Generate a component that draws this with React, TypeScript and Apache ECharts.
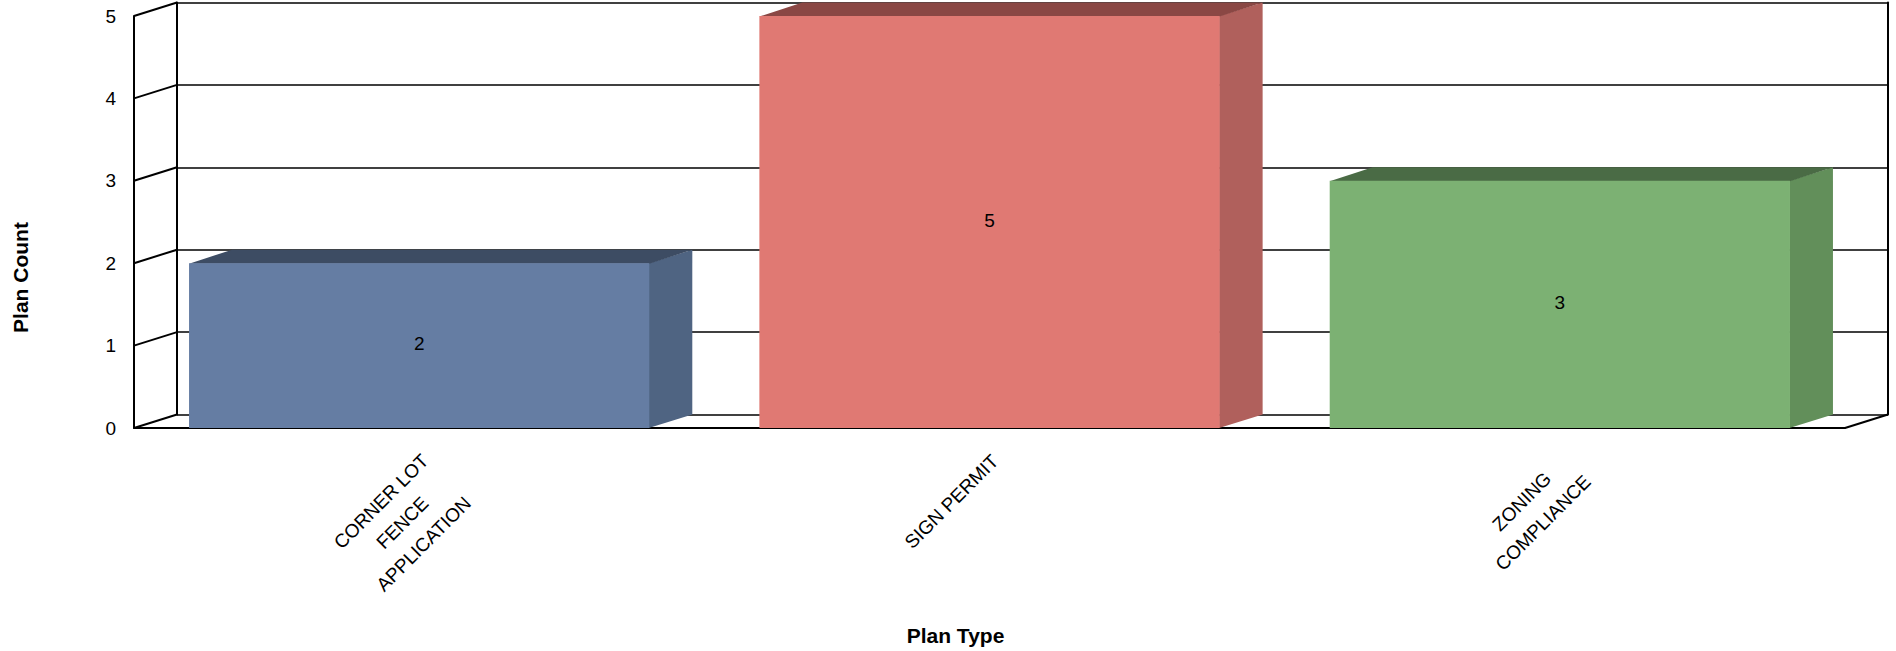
import React, { useEffect, useRef } from 'react';
import * as echarts from 'echarts';

// ---- data ----
const categories = ['CORNER LOT\nFENCE\nAPPLICATION', 'SIGN PERMIT', 'ZONING\nCOMPLIANCE'];
const planCounts = [2, 5, 3];
const yTicks = [0, 1, 2, 3, 4, 5];
const yAxisTitle = 'Plan Count';
const xAxisTitle = 'Plan Type';

// ---- styles ----
const frontColors = ['#657da3', '#e07973', '#7cb173'];
const sideColors = ['#4f6482', '#b0605c', '#628f5a'];
const topColors = ['#3d4c63', '#8a4744', '#4a6b45'];
const FONT = "'Liberation Sans', Arial, Helvetica, sans-serif";
const DX = 43;
const DY = 13.5;
const BAR_RATIO = 0.807;
const LABEL_DX = -48.6;
const LABEL_DY = 62.9;
const LINE_H = 30;
const VALUE_LABEL_SHIFT = -2;

export default function App() {
  const ref = useRef<HTMLDivElement>(null);
  useEffect(() => {
    const chart = echarts.init(ref.current as HTMLDivElement, null, { renderer: 'svg' });
    const option: any = {
      animation: false,
      backgroundColor: '#ffffff',
      grid: [
        { left: 134, top: 16, width: 1711, height: 412 },
        { left: 177, top: 2.5, width: 1711, height: 412 },
      ],
      xAxis: [
        {
          type: 'category',
          gridIndex: 0,
          data: categories,
          axisLine: { show: true, lineStyle: { color: '#000', width: 2 } },
          axisTick: { show: false },
          axisLabel: { show: false },
          splitLine: { show: false },
        },
        { type: 'category', gridIndex: 1, data: categories, show: false },
      ],
      yAxis: [
        {
          type: 'value',
          gridIndex: 0,
          min: 0,
          max: 5,
          interval: 1,
          axisLine: { show: true, lineStyle: { color: '#000', width: 2 } },
          axisTick: { show: false },
          axisLabel: { color: '#000', fontSize: 19, fontFamily: FONT, margin: 18 },
          splitLine: { show: false },
        },
        {
          type: 'value',
          gridIndex: 1,
          min: 0,
          max: 5,
          interval: 1,
          axisLine: { show: true, lineStyle: { color: '#000', width: 2 } },
          axisTick: { show: false },
          axisLabel: { show: false },
          splitLine: { show: true, lineStyle: { color: '#000', width: 1.5 } },
        },
        {
          type: 'value',
          gridIndex: 1,
          position: 'right',
          min: 0,
          max: 5,
          interval: 1,
          axisLine: { show: true, lineStyle: { color: '#000', width: 2 } },
          axisTick: { show: false },
          axisLabel: { show: false },
          splitLine: { show: false },
        },
      ],
      graphic: [
        {
          type: 'text',
          x: 20,
          y: 277.5,
          rotation: Math.PI / 2,
          style: {
            text: yAxisTitle,
            align: 'center',
            verticalAlign: 'middle',
            fontSize: 21,
            fontWeight: 'bold',
            fontFamily: FONT,
            fill: '#000',
          },
        },
        {
          type: 'text',
          x: 955.5,
          y: 635.5,
          style: {
            text: xAxisTitle,
            align: 'center',
            verticalAlign: 'middle',
            fontSize: 21,
            fontWeight: 'bold',
            fontFamily: FONT,
            fill: '#000',
          },
        },
      ],
      series: [
        {
          type: 'custom',
          name: 'walls',
          xAxisIndex: 0,
          yAxisIndex: 0,
          silent: true,
          z: 1,
          data: yTicks.map((t) => [0, t]),
          renderItem: (params: any, api: any) => {
            const t = api.value(1);
            const y = api.coord([0, t])[1];
            const cs = params.coordSys;
            const children: any[] = [
              {
                type: 'line',
                shape: { x1: cs.x, y1: y, x2: cs.x + DX, y2: y - DY },
                style: { stroke: '#000', lineWidth: 2 },
              },
            ];
            if (t === 0) {
              children.push({
                type: 'line',
                shape: { x1: cs.x + cs.width, y1: y, x2: cs.x + cs.width + DX, y2: y - DY },
                style: { stroke: '#000', lineWidth: 2 },
              });
            }
            return { type: 'group', children };
          },
        },
        {
          type: 'custom',
          name: 'Plan Count',
          xAxisIndex: 0,
          yAxisIndex: 0,
          z: 2,
          data: planCounts.map((v, i) => [i, v]),
          renderItem: (params: any, api: any) => {
            const i = api.value(0);
            const v = api.value(1);
            const top = api.coord([i, v]);
            const base = api.coord([i, 0]);
            const bw = api.size([1, 0])[0] * BAR_RATIO;
            const x0 = top[0] - bw / 2;
            const x1 = top[0] + bw / 2;
            const yT = top[1];
            const yB = base[1];
            return {
              type: 'group',
              children: [
                {
                  type: 'polygon',
                  shape: { points: [[x1 - 0.5, yT], [x1 + DX, yT - DY], [x1 + DX, yB - DY], [x1 - 0.5, yB]] },
                  style: { fill: sideColors[i] },
                },
                {
                  type: 'polygon',
                  shape: { points: [[x0, yT + 0.5], [x0 + DX, yT - DY], [x1 + DX, yT - DY], [x1, yT + 0.5]] },
                  style: { fill: topColors[i] },
                },
                {
                  type: 'rect',
                  shape: { x: x0, y: yT, width: bw, height: yB - yT },
                  style: { fill: frontColors[i] },
                },
                {
                  type: 'text',
                  x: top[0],
                  y: (yT + yB) / 2 + VALUE_LABEL_SHIFT,
                  style: {
                    text: String(v),
                    align: 'center',
                    verticalAlign: 'middle',
                    fontSize: 19,
                    fontFamily: FONT,
                    fill: '#000',
                  },
                },
                {
                  type: 'text',
                  x: top[0] + LABEL_DX,
                  y: yB + LABEL_DY,
                  rotation: Math.PI / 4,
                  style: {
                    text: categories[i],
                    align: 'center',
                    verticalAlign: 'top',
                    lineHeight: LINE_H,
                    fontSize: 19,
                    fontFamily: FONT,
                    fill: '#000',
                  },
                },
              ],
            };
          },
        },
      ],
    };
    chart.setOption(option);
    return () => chart.dispose();
  }, []);
  return (
    <div
      ref={ref}
      style={{ position: 'absolute', left: 0, top: 0, width: 1896, height: 651, background: '#fff' }}
    />
  );
}
